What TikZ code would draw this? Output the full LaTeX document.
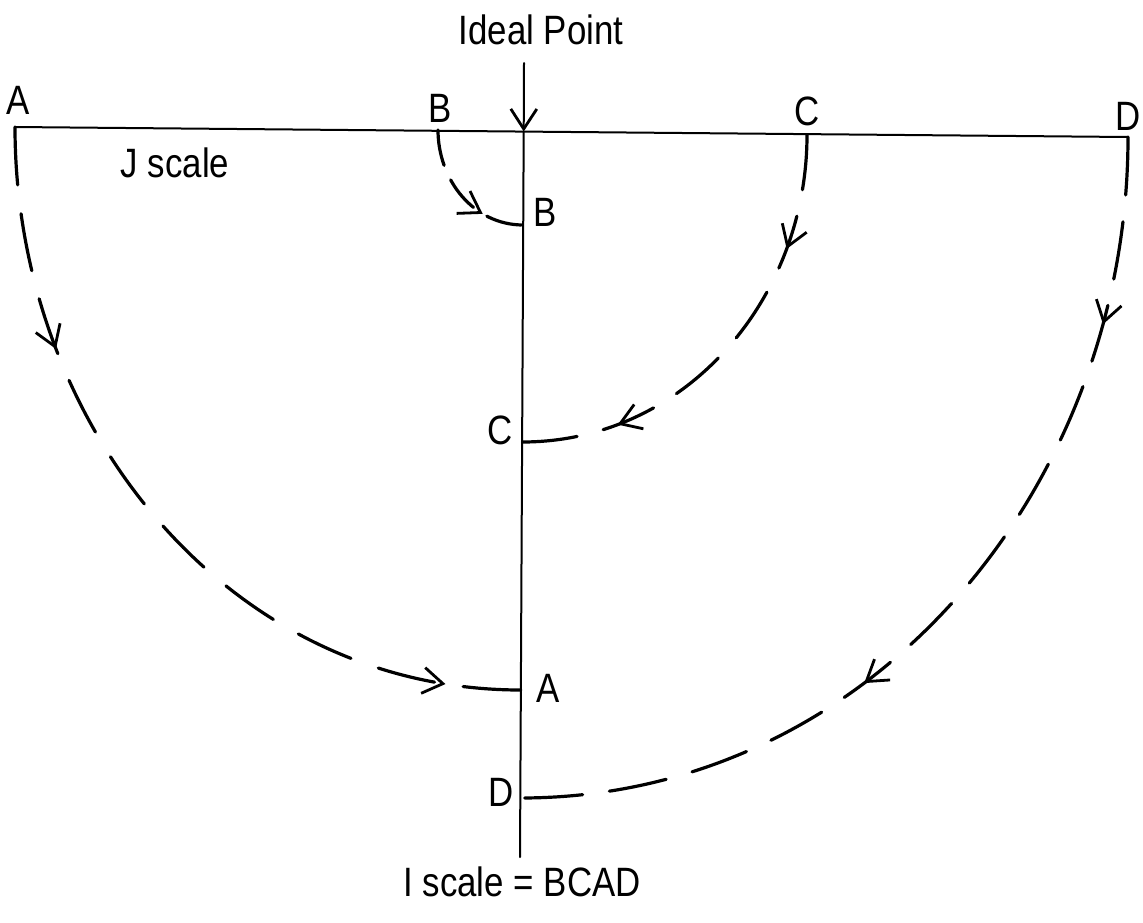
\documentclass[tikz,border=0pt]{standalone}
\usepackage{fontspec}
\usepackage{graphicx}
\setmainfont{Liberation Sans}
\usetikzlibrary{arrows.meta,decorations.markings}
\newcommand\sklbl[1]{\scalebox{0.85}[1]{#1}}
\tikzset{
  axis/.style={line width=2pt, line cap=round},
  arcline/.style={line width=3.2pt, line cap=round},
  barb/.tip={Straight Barb[length=20pt,width=26pt,line width=2.8pt]},
  lbl/.style={inner sep=0pt, font=\fontsize{41}{48}\selectfont},
}
\begin{document}
\begin{tikzpicture}[x=1pt,y=1pt]
\useasboundingbox (0,0) rectangle (1143,-922);
% axes
\coordinate (jl) at (15,-127);
\coordinate (jr) at (1128,-137);
\coordinate (vtop) at (524,-63);
\coordinate (ideal) at (523.7,-131.5);
\coordinate (vbot) at (520,-857);
\draw[axis] (jl) -- (jr);
\draw[axis, -{barb}] (vtop) -- (ideal);
\draw[axis] (ideal) -- (vbot);
% start points on J scale
\coordinate (As) at (15,-127);
\coordinate (Bs) at (438,-130);
\coordinate (Cs) at (807,-135);
\coordinate (Ds) at (1128,-137);
% end points on I scale
\coordinate (Be) at (523.2,-225);
\coordinate (Ce) at (522.1,-442);
\coordinate (Ae) at (520.8,-690);
\coordinate (De) at (520.3,-798);
% labels
\node[lbl] (tIdeal) at (541,-30) {\sklbl{Ideal Point}};
\node[lbl] (tA) at (18,-100) {\sklbl{A}};
\node[lbl] (tB) at (440,-108) {\sklbl{B}};
\node[lbl] (tC) at (807,-111) {\sklbl{C}};
\node[lbl] (tD) at (1128,-116) {\sklbl{D}};
\node[lbl] (tJ) at (175,-163) {\sklbl{J scale}};
\node[lbl] (iB) at (545,-212) {\sklbl{B}};
\node[lbl] (iC) at (500,-430) {\sklbl{C}};
\node[lbl] (iA) at (548,-688) {\sklbl{A}};
\node[lbl] (iD) at (501,-792) {\sklbl{D}};
\node[lbl] (tI) at (522,-882) {\sklbl{I scale = BCAD}};
% dashed transfer arcs
\draw[arcline, dash pattern=on 58pt off 29pt,
  postaction={decorate}, decoration={markings,
    mark=at position 0.27 with {\arrow{barb}},
    mark=at position 0.91 with {\arrow{barb}}}]
  (As) to[out=270,in=180] (Ae);
\draw[arcline, dash pattern=on 36pt off 16pt,
  postaction={decorate}, decoration={markings,
    mark=at position 0.70 with {\arrow{barb}}}]
  (Bs) to[out=270,in=180] (Be);
\draw[arcline, dash pattern=on 55pt off 27pt,
  postaction={decorate}, decoration={markings,
    mark=at position 0.25 with {\arrow{barb}},
    mark=at position 0.79 with {\arrow{barb}}}]
  (Cs) to[out=270,in=0] (Ce);
\draw[arcline, dash pattern=on 58pt off 27pt,
  postaction={decorate}, decoration={markings,
    mark=at position 0.19 with {\arrow{barb}},
    mark=at position 0.63 with {\arrow{barb}}}]
  (Ds) to[out=270,in=0] (De);
\end{tikzpicture}
\end{document}
